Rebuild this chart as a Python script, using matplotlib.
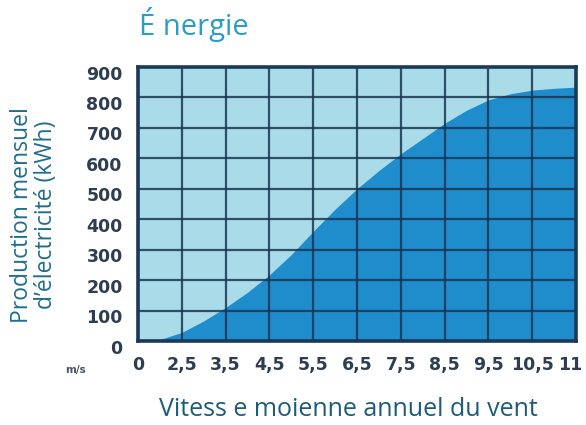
import matplotlib
matplotlib.use("Agg")
import matplotlib.pyplot as plt
import matplotlib.transforms as mtransforms

# Wind speed tick labels (m/s) and monthly production (kWh)
speed_labels = ["0", "2,5", "3,5", "4,5", "5,5", "6,5", "7,5", "8,5", "9,5", "10,5", "11"]
# production sampled at every half step between the speed ticks
curve_pos = [0, 0.5, 1, 1.5, 2, 2.5, 3, 3.5, 4, 4.5, 5,
             5.5, 6, 6.5, 7, 7.5, 8, 8.5, 9, 9.5, 10]
production = [0, 5, 28, 66, 110, 160, 217, 284, 360, 433, 500,
              560, 615, 665, 715, 758, 792, 812, 824, 830, 834]
y_ticks = [0, 100, 200, 300, 400, 500, 600, 700, 800, 900]

light = "#a9dbe8"
dark = "#1f8ccb"
grid_col = "#1a3552"
tick_col = "#2e3d52"

fig = plt.figure(figsize=(5.86, 4.25), dpi=100)
fig.patch.set_facecolor("white")
ax = fig.add_axes([138 / 586, 84 / 425, 438 / 586, 274 / 425])

ax.set_facecolor(light)
ax.fill_between(curve_pos, production, 0, color=dark, lw=0, zorder=1)

ax.set_xlim(0, len(speed_labels) - 1)
ax.set_ylim(0, 900)
ax.set_xticks(range(len(speed_labels)))
ax.set_xticklabels(speed_labels)
ax.set_yticks(y_ticks)
ax.set_yticklabels([str(v) for v in y_ticks])

ax.grid(True, color=grid_col, lw=1.6, alpha=0.85, zorder=2)
ax.set_axisbelow(False)
for sp in ax.spines.values():
    sp.set_color("#1b3a5a")
    sp.set_linewidth(2.6)
    sp.set_zorder(3)

ax.tick_params(axis="both", length=0, labelsize=12.5, labelcolor=tick_col)
ax.tick_params(axis="y", pad=11)
ax.tick_params(axis="x", pad=11)
for lab in ax.get_xticklabels() + ax.get_yticklabels():
    lab.set_fontweight("bold")
    lab.set_family("DejaVu Sans")
# y labels sit slightly below their grid lines
off = mtransforms.ScaledTranslation(0, -4 / 72, fig.dpi_scale_trans)
for lab in ax.get_yticklabels():
    lab.set_transform(lab.get_transform() + off)
# keep the last speed label inside the figure
last = ax.get_xticklabels()[-1]
last.set_transform(last.get_transform() +
                   mtransforms.ScaledTranslation(-4 / 72, 0, fig.dpi_scale_trans))

# unit marker under the y axis
fig.text(76 / 586, 1 - 370 / 425, "m/s", fontsize=7.5, fontweight="bold",
         color="#4a5566", ha="center", va="center", family="DejaVu Sans")

# title
fig.text(139 / 586, 1 - 25 / 425, "É nergie", fontsize=21, color="#2b9cc6",
         ha="left", va="center", family="Open Sans")

# y axis title, two lines
fig.text(22 / 586, 1 - 215 / 425, "Production mensuel", fontsize=16.5,
         color="#1f6d8e", rotation=90, ha="center", va="center", family="Open Sans")
fig.text(46 / 586, 1 - 215 / 425, "d’électricité (kWh)", fontsize=16.5,
         color="#1f6d8e", rotation=90, ha="center", va="center", family="Open Sans")

# x axis title
fig.text(348 / 586, 1 - 410 / 425, "Vitess e moienne annuel du vent", fontsize=18,
         color="#1d5c78", ha="center", va="center", family="Open Sans")

fig.savefig("out.png", dpi=100, facecolor="white")
